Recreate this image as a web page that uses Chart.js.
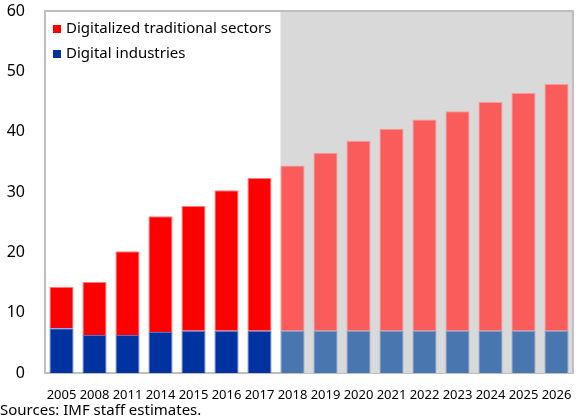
<!DOCTYPE html>
<html>
<head>
<meta charset="utf-8">
<script src="https://cdn.jsdelivr.net/npm/chart.js@4/dist/chart.umd.min.js"></script>
<style>
  html, body { margin: 0; padding: 0; background: #fff; }
  #wrap { width: 579px; height: 419px; position: relative; }
</style>
</head>
<body>
<div id="wrap"><canvas id="chart"></canvas></div>
<script>
const years = ["2005", "2008", "2011", "2014", "2015", "2016", "2017", "2018", "2019", "2020", "2021", "2022", "2023", "2024", "2025", "2026"]
const digitalIndustries = [7.4, 6.3, 6.3, 6.8, 7.0, 7.0, 7.0, 7.0, 7.0, 7.0, 7.0, 7.0, 7.0, 7.0, 7.0, 7.0]
const traditionalSectors = [6.9, 8.8, 13.9, 19.2, 20.7, 23.3, 25.3, 27.4, 29.5, 31.5, 33.5, 35.0, 36.4, 37.9, 39.4, 40.9]
const yTicks = [0, 10, 20, 30, 40, 50, 60]
const firstProjection = "2018"
const sourceNote = "Sources: IMF staff estimates."

const FONT = "'Noto Sans', 'Open Sans', sans-serif"
const projIdx = years.indexOf(firstProjection)

const colorsFor = (actual, proj) => years.map((y, i) => i < projIdx ? actual : proj)

// grey shading for projections + frame
const shadePlugin = {
  id: "shade",
  beforeDatasetsDraw(chart) {
    const { ctx, chartArea } = chart
    const bar = chart.getDatasetMeta(0).data[projIdx]
    const x0 = bar.x - bar.width / 2
    ctx.save()
    ctx.fillStyle = "#d9d9d9"
    ctx.fillRect(x0, chartArea.top, chartArea.right - x0, chartArea.bottom - chartArea.top)
    ctx.restore()
  },
  afterDraw(chart) {
    const { ctx, chartArea } = chart
    ctx.save()
    ctx.strokeStyle = "#bfbfbf"
    ctx.lineWidth = 2
    ctx.beginPath()
    ctx.moveTo(chartArea.left, chartArea.top)
    ctx.lineTo(chartArea.right, chartArea.top)
    ctx.lineTo(chartArea.right, chartArea.bottom)
    ctx.stroke()

    // legend
    const items = [
      { label: chart.data.datasets[1].label, color: "#ff0000" },
      { label: chart.data.datasets[0].label, color: "#0033a0" }
    ]
    ctx.font = "15px " + FONT
    ctx.textBaseline = "middle"
    items.forEach((it, i) => {
      const y = 29 + i * 25
      ctx.fillStyle = it.color
      ctx.fillRect(53, y - 4, 8, 8)
      ctx.fillStyle = "#000"
      ctx.fillText(it.label, 66, y)
    })

    ctx.font = "15px " + FONT
    ctx.fillStyle = "#000"
    ctx.textBaseline = "middle"
    ctx.fillText(sourceNote, 0, 411)
    ctx.restore()
  }
}

new Chart(document.getElementById("chart"), {
  type: "bar",
  data: {
    labels: years,
    datasets: [
      {
        label: "Digital industries",
        data: digitalIndustries,
        backgroundColor: colorsFor("#0033a0", "#4a76b0"),
        borderColor: colorsFor("#5a73c4", "#7f9dc6"),
        borderWidth: 1
      },
      {
        label: "Digitalized traditional sectors",
        data: traditionalSectors,
        backgroundColor: colorsFor("#ff0000", "#fa5b5b"),
        borderColor: colorsFor("#ff8080", "#f79a9a"),
        borderWidth: 1
      }
    ]
  },
  options: {
    responsive: true,
    maintainAspectRatio: false,
    animation: false,
    datasets: {
      bar: { categoryPercentage: 1, barPercentage: 0.73 }
    },
    layout: { padding: { top: 11, right: 6, left: 0, bottom: 0 } },
    plugins: {
      legend: { display: false },
      tooltip: { enabled: false }
    },
    scales: {
      x: {
        stacked: true,
        grid: { display: false },
        border: { color: "#bfbfbf", width: 2 },
        ticks: {
          color: "#000",
          font: { family: FONT, size: 13 },
          maxRotation: 0,
          autoSkip: false,
          padding: 6
        },
        afterFit(scale) {
          scale.height = 46
          scale.paddingLeft = 0
          scale.paddingRight = 0
        }
      },
      y: {
        stacked: true,
        min: 0,
        max: 60,
        afterBuildTicks(scale) { scale.ticks = yTicks.map(v => ({ value: v })) },
        grid: { display: false },
        border: { color: "#bfbfbf", width: 2 },
        ticks: {
          color: "#000",
          font: { family: FONT, size: 16 },
          padding: 12
        },
        afterFit(scale) {
          scale.width = 45
          scale.paddingTop = 0
          scale.paddingBottom = 0
        }
      }
    }
  },
  plugins: [shadePlugin]
})
</script>
</body>
</html>
